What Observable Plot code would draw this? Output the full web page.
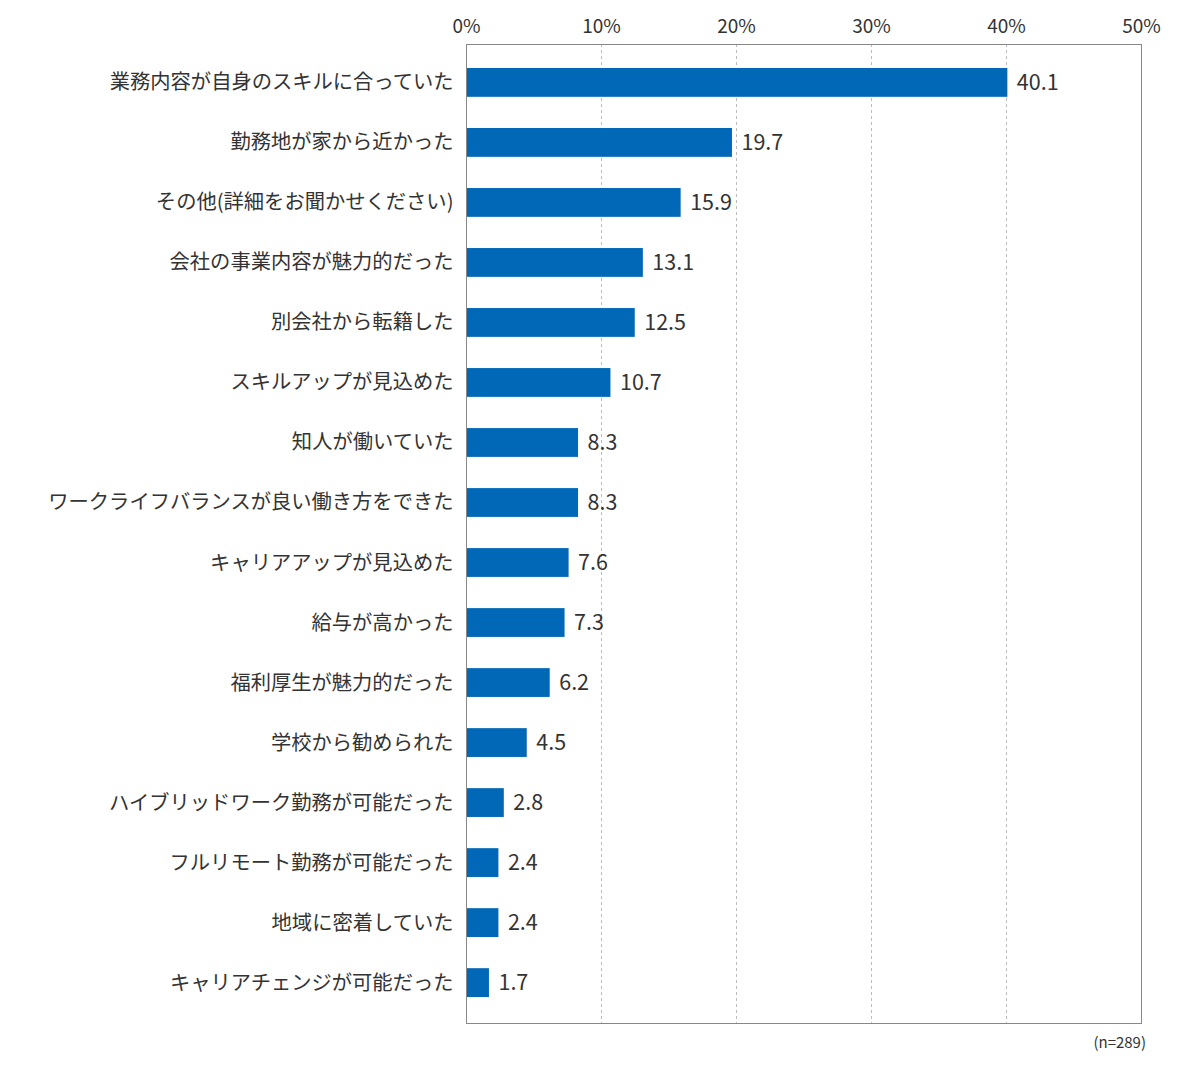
<!DOCTYPE html>
<html><head><meta charset="utf-8">
<script src="https://cdn.jsdelivr.net/npm/d3@7"></script>
<script src="https://cdn.jsdelivr.net/npm/@observablehq/plot@0.6"></script>
<style>
body{margin:0;background:#fff;font-family:"Noto Sans CJK JP",sans-serif;}
#cap{position:absolute;left:0;width:1146px;top:1031px;text-align:right;font-size:15px;color:#333;font-family:"Noto Sans CJK JP",sans-serif;}
</style></head>
<body>
<div id="chart"></div>
<div id="cap">(n=289)</div>
<script>
const categories = ["業務内容が自身のスキルに合っていた","勤務地が家から近かった","その他(詳細をお聞かせください)","会社の事業内容が魅力的だった","別会社から転籍した","スキルアップが見込めた","知人が働いていた","ワークライフバランスが良い働き方をできた","キャリアアップが見込めた","給与が高かった","福利厚生が魅力的だった","学校から勧められた","ハイブリッドワーク勤務が可能だった","フルリモート勤務が可能だった","地域に密着していた","キャリアチェンジが可能だった"];
const values = [40.1,19.7,15.9,13.1,12.5,10.7,8.3,8.3,7.6,7.3,6.2,4.5,2.8,2.4,2.4,1.7];
const xTicks = [0,10,20,30,40,50];
const data = categories.map((c,i)=>({cat:c, v:values[i]}));
const font = "Noto Sans CJK JP";
const chart = Plot.plot({
  width:1200, height:1040,
  marginLeft:466, marginRight:59, marginTop:44, marginBottom:17,
  style:{fontFamily:font, background:"#fff"},
  x:{domain:[0,50], label:null},
  y:{domain:categories, paddingInner:0.52, paddingOuter:0.4, insetBottom:2, round:false, label:null},
  marks:[
    Plot.gridX(xTicks.filter(d=>d>0&&d<50),{stroke:"#bbb",strokeOpacity:1,strokeDasharray:"3,3"}),
    Plot.barX(data,{x:"v",y:"cat",fill:"#0068b7"}),
    Plot.text(data,{x:"v",y:"cat",text:d=>d.v.toFixed(1),textAnchor:"start",dx:9,fontSize:21.5,fill:"#333",fontFamily:font}),
    Plot.frame({stroke:"#888"}),
    Plot.axisX({anchor:"top",ticks:xTicks,tickSize:0,tickPadding:12,tickFormat:d=>d+"%",fontSize:19,color:"#333",fontFamily:font,label:null}),
    Plot.axisY({tickSize:0,tickPadding:13,fontSize:20.3,color:"#333",label:null,fontFamily:font})
  ]
});
document.getElementById("chart").appendChild(chart);
</script>
</body></html>
